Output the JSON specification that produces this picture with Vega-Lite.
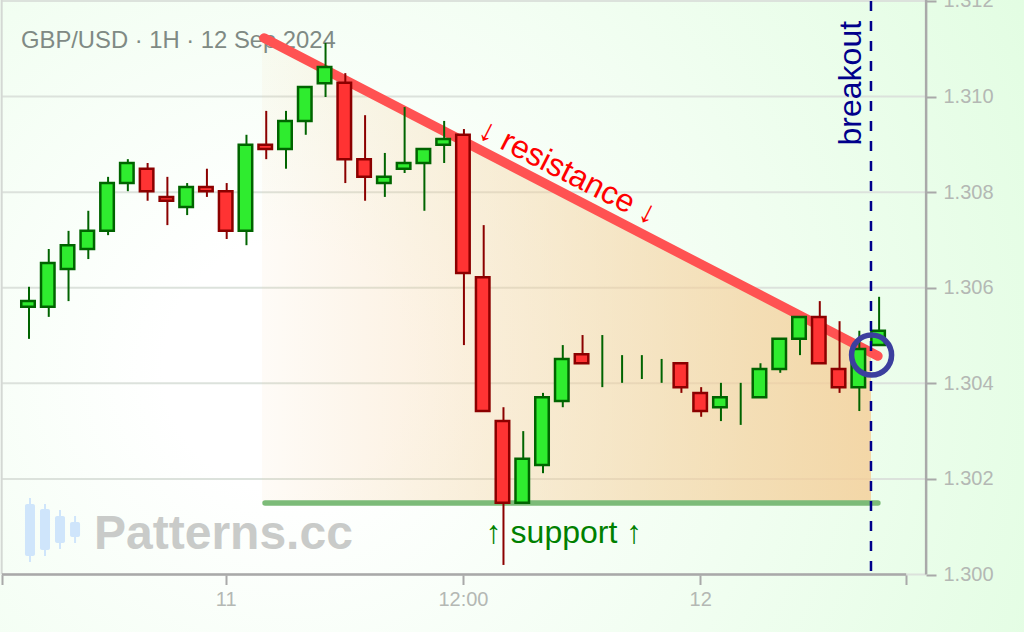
{
"$schema":"https://vega.github.io/schema/vega-lite/v6.json",
"width":1024,"height":632,"autosize":{"type":"none"},"padding":0,
"background":"#f4fff6",
"view":{"stroke":null,"fill":{"gradient":"radial","x1":0.28,"y1":0.55,"r1":0.12,"x2":0.28,"y2":0.55,"r2":0.82,"stops":[{"offset":0,"color":"#ffffff"},{"offset":1,"color":"#e2fde2"}]}},
"config":{"font":"Liberation Sans","axis":{"labelFont":"Liberation Sans"}},
"datasets":{"candles":[
{"i":0,"o":1.3056,"c":1.30572,"h":1.30602,"l":1.30493},
{"i":1,"o":1.3056,"c":1.30652,"h":1.30681,"l":1.30539},
{"i":2,"o":1.30639,"c":1.30689,"h":1.30719,"l":1.30572},
{"i":3,"o":1.30681,"c":1.30719,"h":1.30761,"l":1.3066},
{"i":4,"o":1.30719,"c":1.30819,"h":1.30832,"l":1.3071},
{"i":5,"o":1.30819,"c":1.30861,"h":1.30869,"l":1.30802},
{"i":6,"o":1.30849,"c":1.30802,"h":1.30861,"l":1.30782},
{"i":7,"o":1.3079,"c":1.30782,"h":1.30832,"l":1.30731},
{"i":8,"o":1.30769,"c":1.30811,"h":1.30819,"l":1.30752},
{"i":9,"o":1.30811,"c":1.30802,"h":1.30849,"l":1.3079},
{"i":10,"o":1.30802,"c":1.30719,"h":1.30819,"l":1.30702},
{"i":11,"o":1.30719,"c":1.30899,"h":1.3092,"l":1.30689},
{"i":12,"o":1.30899,"c":1.3089,"h":1.3097,"l":1.30869},
{"i":13,"o":1.3089,"c":1.30949,"h":1.3097,"l":1.30849},
{"i":14,"o":1.30949,"c":1.3102,"h":1.3102,"l":1.3092},
{"i":15,"o":1.31028,"c":1.31062,"h":1.31112,"l":1.30999},
{"i":16,"o":1.31029,"c":1.30869,"h":1.31049,"l":1.30819},
{"i":17,"o":1.30869,"c":1.30832,"h":1.30961,"l":1.30782},
{"i":18,"o":1.30819,"c":1.30832,"h":1.30882,"l":1.3079},
{"i":19,"o":1.30849,"c":1.30861,"h":1.30978,"l":1.3084},
{"i":20,"o":1.30861,"c":1.3089,"h":1.3089,"l":1.30761},
{"i":21,"o":1.30899,"c":1.30911,"h":1.30949,"l":1.30861},
{"i":22,"o":1.3092,"c":1.30631,"h":1.30932,"l":1.3048},
{"i":23,"o":1.30622,"c":1.30342,"h":1.30731,"l":1.30342},
{"i":24,"o":1.30321,"c":1.3015,"h":1.3035,"l":1.3002},
{"i":25,"o":1.3015,"c":1.30242,"h":1.303,"l":1.3015},
{"i":26,"o":1.30229,"c":1.30371,"h":1.3038,"l":1.30212},
{"i":27,"o":1.30363,"c":1.30451,"h":1.3048,"l":1.3035},
{"i":28,"o":1.30461,"c":1.30442,"h":1.30501,"l":1.30442},
{"i":29,"o":1.3044,"c":1.3044,"h":1.30501,"l":1.30392},
{"i":30,"o":1.3043,"c":1.3043,"h":1.30459,"l":1.30401},
{"i":31,"o":1.3043,"c":1.3043,"h":1.30459,"l":1.30409},
{"i":32,"o":1.3043,"c":1.3043,"h":1.30451,"l":1.30401},
{"i":33,"o":1.30442,"c":1.30392,"h":1.30442,"l":1.3038},
{"i":34,"o":1.3038,"c":1.30342,"h":1.30392,"l":1.3033},
{"i":35,"o":1.3035,"c":1.30371,"h":1.30401,"l":1.30321},
{"i":36,"o":1.30371,"c":1.30371,"h":1.30401,"l":1.30313},
{"i":37,"o":1.30371,"c":1.3043,"h":1.30442,"l":1.30371},
{"i":38,"o":1.3043,"c":1.30493,"h":1.30493,"l":1.30422},
{"i":39,"o":1.30493,"c":1.30539,"h":1.30539,"l":1.30459},
{"i":40,"o":1.30539,"c":1.30442,"h":1.30572,"l":1.30442},
{"i":41,"o":1.3043,"c":1.30392,"h":1.3053,"l":1.3038},
{"i":42,"o":1.30392,"c":1.30472,"h":1.3051,"l":1.30342},
{"i":43,"o":1.3048,"c":1.3051,"h":1.30581,"l":1.3048}
],
"logo":[
{"i":0.1,"o":1.301475,"c":1.300387,"h":1.301601,"l":1.300262},
{"i":0.86,"o":1.301371,"c":1.300513,"h":1.301475,"l":1.300387},
{"i":1.62,"o":1.301224,"c":1.300659,"h":1.30135,"l":1.300534},
{"i":2.38,"o":1.301099,"c":1.300785,"h":1.301224,"l":1.300659}
]},
"encoding":{
"x":{"field":"i","type":"quantitative","scale":{"domain":[-1.416,50.38],"nice":false,"zero":false,"padding":0},"title":null,
"axis":{"orient":"bottom","offset":-57.5,"values":[-1.315,10,22,34,44.42],"labelExpr":"datum.value==10?'11':datum.value==22?'12:00':datum.value==34?'12':''","domain":false,"grid":false,"ticks":true,"tickColor":"#a9a9a9","tickWidth":2,"tickSize":10,"labelFontSize":20,"labelColor":"#b4b8b4","labelPadding":5,"labelOverlap":false,"labelBound":false,"labelFlush":false,"title":null}},
"y":{"field":"p","type":"quantitative","scale":{"domain":[1.298797,1.31202],"nice":false,"zero":false},"title":null,
"axis":{"orient":"right","offset":-98,"values":[1.3,1.302,1.304,1.306,1.308,1.31,1.312],"format":".3f","domain":false,"grid":false,"tickColor":"#a9a9a9","tickWidth":2,"tickSize":10,"labelFontSize":20,"labelColor":"#b4b8b4","labelPadding":7,"labelOverlap":false,"labelBound":false,"title":null}}
},
"layer":[
{"data":{"values":[{"i":-1.315,"i2":45.43,"p":1.3},{"i":-1.315,"i2":45.43,"p":1.302},{"i":-1.315,"i2":45.43,"p":1.304},{"i":-1.315,"i2":45.43,"p":1.306},{"i":-1.315,"i2":45.43,"p":1.308},{"i":-1.315,"i2":45.43,"p":1.31},{"i":-1.315,"i2":45.43,"p":1.312}]},
"mark":{"type":"rule","stroke":"#dce2dc","strokeWidth":2},
"encoding":{"x2":{"field":"i2"}}},
{"data":{"values":[{"i":-1.33,"p":1.3,"p2":1.31202}]},
"mark":{"type":"rule","stroke":"#d4d8d4","strokeWidth":2},
"encoding":{"y2":{"field":"p2"}}},
{"data":{"values":[{"i":-1.315,"i2":44.42,"p":1.3}]},
"mark":{"type":"rule","stroke":"#a9a9a9","strokeWidth":2.5},
"encoding":{"x2":{"field":"i2"}}},
{"data":{"values":[{"i":45.43,"p":1.3,"p2":1.31202}]},
"mark":{"type":"rule","stroke":"#a9a9a9","strokeWidth":2.5},
"encoding":{"y2":{"field":"p2"}}},
{"data":{"values":[{"i":11.84,"p":1.311226,"p2":1.3015},{"i":42.64,"p":1.304676,"p2":1.3015}]},
"mark":{"type":"area","fill":{"gradient":"linear","x1":0,"y1":0,"x2":1,"y2":0,"stops":[{"offset":0,"color":"rgba(245,205,150,0.08)"},{"offset":1,"color":"rgba(245,205,150,0.8)"}]}},
"encoding":{"y2":{"field":"p2"}}},
{"data":{"values":[{"t":"GBP/USD · 1H · 12 Sep 2024","i":-0.354,"p":1.31116}]},
"mark":{"type":"text","align":"left","baseline":"middle","fontSize":23.8,"fill":"#7f8a84"},
"encoding":{"text":{"field":"t"}}},
{"data":{"values":[{"i":11.99,"p":1.301496},{"i":42.99,"p":1.301496}]},
"mark":{"type":"line","stroke":"#7cbb78","strokeWidth":5.5,"strokeCap":"round"}},
{"data":{"values":[{"i":11.94,"p":1.311226},{"i":42.99,"p":1.304572}]},
"mark":{"type":"line","stroke":"#ff5252","strokeWidth":9.5,"strokeCap":"round"}},
{"data":{"name":"logo"},
"mark":{"type":"rule","stroke":"#cfe5fb","strokeWidth":2},
"encoding":{"y":{"field":"h","type":"quantitative","scale":{"domain":[1.298797,1.31202],"nice":false,"zero":false},"title":null,"axis":{"orient":"right","offset":-98,"values":[1.3,1.302,1.304,1.306,1.308,1.31,1.312],"format":".3f","domain":false,"grid":false,"tickColor":"#a9a9a9","tickWidth":2,"tickSize":10,"labelFontSize":20,"labelColor":"#b4b8b4","labelPadding":7,"labelOverlap":false,"labelBound":false,"title":null}},"y2":{"field":"l"}}},
{"data":{"name":"logo"},
"mark":{"type":"bar","size":10,"fill":"#cfe5fb","cornerRadius":2},
"encoding":{"y":{"field":"o","type":"quantitative","scale":{"domain":[1.298797,1.31202],"nice":false,"zero":false},"title":null,"axis":{"orient":"right","offset":-98,"values":[1.3,1.302,1.304,1.306,1.308,1.31,1.312],"format":".3f","domain":false,"grid":false,"tickColor":"#a9a9a9","tickWidth":2,"tickSize":10,"labelFontSize":20,"labelColor":"#b4b8b4","labelPadding":7,"labelOverlap":false,"labelBound":false,"title":null}},"y2":{"field":"c"}}},
{"data":{"values":[{"t":"Patterns.cc","i":3.34,"p":1.30083}]},
"mark":{"type":"text","align":"left","baseline":"middle","fontSize":48,"fontWeight":"bold","fill":"#c9cbc9"},
"encoding":{"text":{"field":"t"}}},
{"data":{"name":"candles"},
"mark":{"type":"rule","strokeWidth":2,"xOffset":1},
"encoding":{"y":{"field":"h","type":"quantitative","scale":{"domain":[1.298797,1.31202],"nice":false,"zero":false},"title":null,"axis":{"orient":"right","offset":-98,"values":[1.3,1.302,1.304,1.306,1.308,1.31,1.312],"format":".3f","domain":false,"grid":false,"tickColor":"#a9a9a9","tickWidth":2,"tickSize":10,"labelFontSize":20,"labelColor":"#b4b8b4","labelPadding":7,"labelOverlap":false,"labelBound":false,"title":null}},"y2":{"field":"l"},
"stroke":{"condition":{"test":"datum.c>=datum.o","value":"#006400"},"value":"#8b0000"}}},
{"data":{"name":"candles"},
"transform":[{"filter":"datum.o!=datum.c"}],
"mark":{"type":"bar","size":13.5,"strokeWidth":2.5},
"encoding":{"y":{"field":"o","type":"quantitative","scale":{"domain":[1.298797,1.31202],"nice":false,"zero":false},"title":null,"axis":{"orient":"right","offset":-98,"values":[1.3,1.302,1.304,1.306,1.308,1.31,1.312],"format":".3f","domain":false,"grid":false,"tickColor":"#a9a9a9","tickWidth":2,"tickSize":10,"labelFontSize":20,"labelColor":"#b4b8b4","labelPadding":7,"labelOverlap":false,"labelBound":false,"title":null}},"y2":{"field":"c"},
"fill":{"condition":{"test":"datum.c>=datum.o","value":"#2fec2f"},"value":"#ff3333"},
"stroke":{"condition":{"test":"datum.c>=datum.o","value":"#006400"},"value":"#8b0000"}}},
{"data":{"values":[{"i":42.64,"p":1.312,"p2":1.30007}]},
"mark":{"type":"rule","stroke":"#00008b","strokeWidth":2.5,"strokeDash":[10,10]},
"encoding":{"y2":{"field":"p2"}}},
{"data":{"values":[{"i":42.67,"p":1.30459}]},
"mark":{"type":"point","shape":"circle","size":1600,"filled":false,"stroke":"#3c3f9e","strokeWidth":5.5,"opacity":1}},
{"data":{"values":[{"t":"↓ resistance ↓","i":27.31,"p":1.30842}]},
"mark":{"type":"text","align":"center","baseline":"middle","fontSize":32,"angle":27,"fill":"#ff0000"},
"encoding":{"text":{"field":"t"}}},
{"data":{"values":[{"t":"↑ support ↑","i":27.11,"p":1.30087}]},
"mark":{"type":"text","align":"center","baseline":"middle","fontSize":32,"fill":"#008000"},
"encoding":{"text":{"field":"t"}}},
{"data":{"values":[{"t":"breakout","i":41.63,"p":1.31028}]},
"mark":{"type":"text","align":"center","baseline":"middle","fontSize":32,"angle":270,"fill":"#00008b"},
"encoding":{"text":{"field":"t"}}}
]
}
